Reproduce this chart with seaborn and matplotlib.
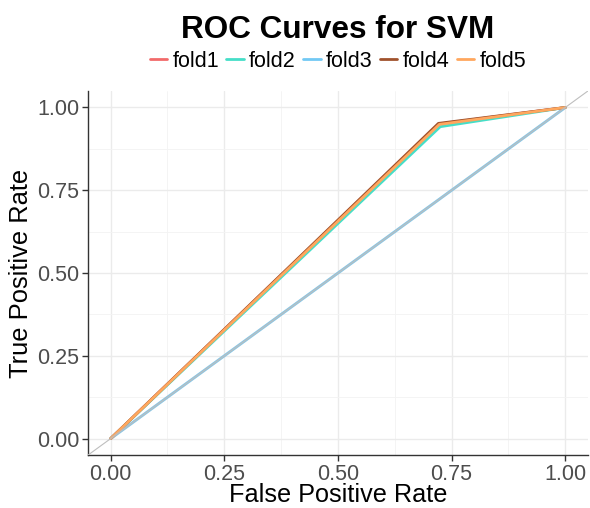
import matplotlib
matplotlib.use("Agg")
import matplotlib.pyplot as plt
import seaborn as sns
import pandas as pd
from matplotlib.ticker import MultipleLocator

folds = ["fold1", "fold2", "fold3", "fold4", "fold5"]
fpr = {
    "fold1": [0.0, 0.722, 1.0],
    "fold2": [0.0, 0.725, 1.0],
    "fold3": [0.0, 1.0],
    "fold4": [0.0, 0.721, 1.0],
    "fold5": [0.0, 0.723, 1.0],
}
tpr = {
    "fold1": [0.0, 0.950, 1.0],
    "fold2": [0.0, 0.942, 1.0],
    "fold3": [0.0, 1.0],
    "fold4": [0.0, 0.952, 1.0],
    "fold5": [0.0, 0.949, 1.0],
}
colors = ["#F26A6A", "#45DEC8", "#72C9F4", "#A0522D", "#FFA75E"]
ticks = [0.0, 0.25, 0.5, 0.75, 1.0]
tick_labels = ["0.00", "0.25", "0.50", "0.75", "1.00"]

rows = []
for f in folds:
    for x, y in zip(fpr[f], tpr[f]):
        rows.append({"fold": f, "FPR": x, "TPR": y})
df = pd.DataFrame(rows)

sns.set_theme(style="white")
plt.rcParams["font.family"] = ["Liberation Sans", "DejaVu Sans"]

fig = plt.figure(figsize=(5.90, 5.08), dpi=100)
ax = fig.add_axes([0.149, 0.104, 0.8476, 0.717])

ax.xaxis.set_minor_locator(MultipleLocator(0.125))
ax.yaxis.set_minor_locator(MultipleLocator(0.125))
ax.grid(True, which="major", color="#EBEBEB", linewidth=1.0)
ax.grid(True, which="minor", color="#F3F3F3", linewidth=0.6)
ax.set_axisbelow(True)

sns.lineplot(data=df, x="FPR", y="TPR", hue="fold", hue_order=folds,
             palette=colors, linewidth=2.0, sort=False, estimator=None, ax=ax)
# identity reference line (blends over fold3)
ax.plot([-0.05, 1.05], [-0.05, 1.05], color="#BEBEBE", linewidth=0.8, zorder=3)
ax.plot([0, 1], [0, 1], color="#BEBEBE", linewidth=2.0, alpha=0.3, zorder=3)

ax.set_xlim(-0.05, 1.05)
ax.set_ylim(-0.05, 1.05)
ax.set_xticks(ticks)
ax.set_xticklabels(tick_labels)
ax.set_yticks(ticks)
ax.set_yticklabels(tick_labels)
ax.tick_params(axis="both", which="major", labelsize=15.5, labelcolor="#4D4D4D",
               color="#333333", length=4, width=1, direction="out", pad=2,
               bottom=True, left=True)
ax.tick_params(axis="both", which="minor", length=0)
for s in ["top", "right"]:
    ax.spines[s].set_visible(False)
for s in ["left", "bottom"]:
    ax.spines[s].set_color("#333333")
    ax.spines[s].set_linewidth(1.0)

ax.set_xlabel("False Positive Rate", fontsize=18.2, color="black", labelpad=-1)
ax.set_ylabel("True Positive Rate", fontsize=18.4, color="black", labelpad=3)

handles, labels = ax.get_legend_handles_labels()
leg = ax.legend(handles, labels, loc="center", bbox_to_anchor=(0.5, 1.081), ncol=5,
                frameon=False, fontsize=15.5, handlelength=0.8, handletextpad=0.25,
                columnspacing=0.35, borderaxespad=0)
for t in leg.get_texts():
    t.set_color("black")

fig.text(0.572, 0.94, "ROC Curves for SVM", fontsize=22.7, fontweight="bold",
         ha="center", va="center", color="black")

fig.savefig("out.png", dpi=100)
